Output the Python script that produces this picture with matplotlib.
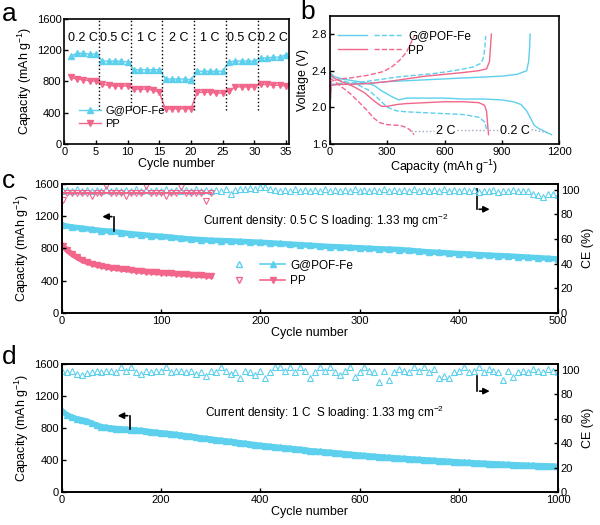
import matplotlib.pyplot as plt
from matplotlib.legend_handler import HandlerTuple
from matplotlib.lines import Line2D

plt.rcParams['font.family'] = ['Liberation Sans', 'DejaVu Sans']
plt.rcParams['font.size'] = 8
plt.rcParams['xtick.direction'] = 'in'
plt.rcParams['ytick.direction'] = 'in'
plt.rcParams['axes.linewidth'] = 1.2
plt.rcParams['mathtext.default'] = 'regular'

CYAN = '#5DD0EE'
PINK = '#F2668B'

# ---------------- (a) rate performance ----------------
rate_cycles = list(range(1, 36))
rate_labels = ['0.2 C', '0.5 C', '1 C', '2 C', '1 C', '0.5 C', '0.2 C']
rate_label_x = [3, 8, 13, 18, 23, 28, 33]
rate_bounds = [5.5, 10.5, 15.5, 20.5, 25.5, 30.5]
rate_gpof = [1120, 1160, 1160, 1150, 1150,
             1060, 1060, 1060, 1060, 1050,
             950, 950, 950, 950, 950,
             830, 830, 830, 830, 820,
             930, 930, 930, 930, 930,
             1050, 1060, 1060, 1060, 1060,
             1100, 1100, 1110, 1110, 1140]
rate_pp = [850, 830, 820, 810, 800,
           760, 750, 740, 740, 740,
           700, 700, 700, 690, 660,
           440, 450, 450, 450, 450,
           660, 660, 660, 650, 650,
           680, 730, 730, 730, 730,
           760, 760, 750, 750, 740]

# ---------------- (b) voltage profiles ----------------
g02_dis_cap = [0, 20, 60, 120, 180, 230, 270, 320, 360, 400, 500, 600, 700, 800, 900, 960, 1000, 1030, 1050, 1070, 1100, 1130, 1160]
g02_dis_v = [2.38, 2.34, 2.31, 2.29, 2.27, 2.24, 2.18, 2.12, 2.08, 2.10, 2.10, 2.10, 2.09, 2.09, 2.08, 2.06, 2.03, 1.96, 1.88, 1.80, 1.76, 1.73, 1.70]
g02_chg_cap = [0, 5, 30, 100, 200, 300, 400, 500, 600, 700, 800, 900, 980, 1030, 1040, 1045, 1048]
g02_chg_v = [1.95, 2.24, 2.25, 2.25, 2.26, 2.28, 2.29, 2.30, 2.31, 2.32, 2.33, 2.34, 2.36, 2.40, 2.50, 2.65, 2.80]
pp02_dis_cap = [0, 20, 60, 120, 180, 230, 270, 300, 350, 400, 500, 600, 700, 780, 810, 820, 825, 830]
pp02_dis_v = [2.37, 2.32, 2.28, 2.23, 2.16, 2.07, 2.01, 2.01, 2.03, 2.04, 2.05, 2.06, 2.06, 2.05, 2.02, 1.95, 1.82, 1.70]
pp02_chg_cap = [0, 5, 50, 100, 200, 300, 400, 500, 600, 700, 780, 820, 835, 840, 845]
pp02_chg_v = [2.00, 2.24, 2.25, 2.25, 2.26, 2.28, 2.31, 2.34, 2.36, 2.38, 2.40, 2.42, 2.50, 2.65, 2.80]
g2_dis_cap = [0, 30, 80, 150, 200, 250, 300, 350, 400, 500, 600, 700, 780, 810, 820]
g2_dis_v = [2.34, 2.31, 2.28, 2.24, 2.19, 2.10, 2.00, 1.96, 1.95, 1.94, 1.93, 1.92, 1.89, 1.84, 1.76]
g2_chg_cap = [0, 5, 50, 150, 250, 350, 450, 550, 650, 750, 790, 805, 812, 815]
g2_chg_v = [2.00, 2.25, 2.26, 2.27, 2.30, 2.33, 2.35, 2.37, 2.40, 2.44, 2.48, 2.55, 2.68, 2.78]
pp2_dis_cap = [0, 50, 105, 150, 192, 230, 262, 300, 367, 400, 420, 440]
pp2_dis_v = [2.32, 2.24, 2.15, 2.06, 1.97, 1.88, 1.83, 1.81, 1.80, 1.78, 1.75, 1.70]
pp2_chg_cap = [0, 5, 50, 105, 200, 280, 330, 367, 400, 437, 445]
pp2_chg_v = [2.00, 2.28, 2.31, 2.32, 2.35, 2.39, 2.45, 2.52, 2.60, 2.76, 2.79]

# ---------------- (c) 0.5 C cycling ----------------
c_cap_cycles = [1] + list(range(10, 501, 10))
c_cap_gpof = [1085, 1065, 1050, 1035, 1020, 1010, 995, 980, 970, 958, 948,
              938, 925, 915, 908, 900, 896, 892, 886, 880, 875,
              868, 860, 852, 845, 838, 830, 822, 818, 812, 806,
              800, 794, 790, 785, 775, 765, 755, 750, 742, 735,
              730, 722, 716, 710, 705, 698, 690, 684, 676, 668]
c_pp_cycles = [1] + list(range(5, 151, 5))
c_cap_pp = [830, 780, 730, 690, 655, 630, 610, 595, 582, 570, 560,
            552, 545, 538, 530, 524, 518, 512, 507, 502, 498,
            494, 490, 486, 482, 478, 474, 470, 466, 462, 458]
c_ce_pp = [92, 97.5, 97.5, 97.5, 97.5, 97.5, 95, 97.5, 97.5, 103, 97.5,
           97.5, 97.5, 95, 97.5, 97.5, 97.5, 103, 97.5, 97.5, 97.5,
           95, 97.5, 97.5, 102, 97.5, 97.5, 97.5, 97.5, 91, 97.5]
c_ce_cycles = [1] + list(range(5, 501, 5))
c_ce_gpof = [99, 100, 99.5, 100.5, 99, 100, 99.5, 100, 99, 100.5,
             99.5, 100, 99, 100, 99.5, 100.5, 99, 100, 99.5, 100,
             99, 100.5, 99.5, 100, 99, 100, 99.5, 100.5, 99, 100,
             99.5, 100, 99, 100.5, 97, 100, 101, 100.5, 101.5, 101,
             102, 102.5, 101, 100, 99.5, 100, 99, 100.5, 99.5, 100,
             99, 100, 99.5, 100.5, 99, 100, 99.5, 100, 99, 100.5,
             99.5, 100, 99, 100, 99.5, 100.5, 99, 100, 99.5, 100,
             99, 100.5, 99.5, 100, 99, 100, 99.5, 100.5, 99, 100,
             99.5, 100, 99, 100, 98.5, 99.5, 99, 100, 98.5, 99.5,
             99, 100, 99.5, 99, 99.5, 97, 96, 94, 96.5, 97, 96]

# ---------------- (d) 1 C cycling ----------------
d_cycles = [1] + list(range(10, 1001, 10))
d_cap = [1010, 965, 935, 915, 900, 885, 860, 835, 815, 805, 798,
         792, 787, 782, 778, 773, 768, 760, 752, 745, 738,
         732, 726, 718, 710, 703, 695, 685, 675, 668, 660,
         652, 645, 637, 630, 622, 614, 606, 598, 590, 582,
         576, 568, 562, 556, 550, 545, 538, 532, 526, 515,
         510, 505, 500, 495, 490, 484, 478, 472, 466, 460,
         455, 450, 445, 440, 435, 431, 427, 422, 418, 414,
         410, 406, 402, 398, 394, 390, 386, 382, 378, 375,
         371, 368, 364, 361, 358, 355, 352, 349, 346, 343,
         340, 338, 335, 333, 331, 329, 327, 325, 323, 320]
d_ce = [99, 98.5, 99.5, 97, 96, 97.5, 98, 99.5, 98.5, 99.5, 99,
        98.5, 102, 99.5, 102, 98.5, 97, 99.5, 98.5, 99.5, 99,
        102, 98.5, 99.5, 99, 98.5, 99.5, 97, 98.5, 95, 99.5,
        98.5, 102, 99.5, 97, 98.5, 93, 99.5, 98.5, 96, 99.5,
        93, 98.5, 102, 102, 99.5, 102, 98.5, 102, 99.5, 93,
        98.5, 102, 99.5, 102, 98.5, 96, 99.5, 102, 94, 98.5,
        102, 99.5, 98.5, 90, 99.5, 92, 98.5, 101, 99.5, 98.5,
        102, 99.5, 102, 98.5, 101, 93, 95, 93, 98.5, 99.5,
        102, 98.5, 99.5, 102, 98.5, 101, 99.5, 98.5, 92, 99.5,
        94, 98.5, 99.5, 98.5, 101, 99.5, 98.5, 101, 99.5, 98.5]

fig = plt.figure(figsize=(6, 5.25), dpi=100)

# ---- panel a ----
ax_a = fig.add_axes([0.107, 0.726, 0.375, 0.238])
ax_a.plot(rate_cycles, rate_gpof, '-^', color=CYAN, ms=5, lw=1, label='G@POF-Fe')
ax_a.plot(rate_cycles, rate_pp, '-v', color=PINK, ms=5, lw=1, label='PP')
ax_a.vlines(rate_bounds, 430, 1600, colors='k', linestyles=':', lw=1)
for x, lab in zip(rate_label_x, rate_labels):
    ax_a.text(x, 1350, lab, ha='center', va='center', fontsize=9)
ax_a.set_xlim(0, 35.5)
ax_a.set_ylim(0, 1600)
ax_a.set_xticks(range(0, 36, 5))
ax_a.set_yticks(range(0, 1601, 400))
ax_a.set_xlabel('Cycle number', fontsize=9, labelpad=1)
ax_a.set_ylabel('Capacity (mAh g$^{-1}$)', fontsize=9, labelpad=2)
ax_a.legend(loc='lower left', bbox_to_anchor=(0.02, 0.04), frameon=False,
            fontsize=8, handlelength=2, handletextpad=0.4, labelspacing=0.3)

# ---- panel b ----
ax_b = fig.add_axes([0.55, 0.726, 0.382, 0.244])
ax_b.plot(g02_dis_cap, g02_dis_v, '-', color=CYAN, lw=1)
ax_b.plot(g02_chg_cap, g02_chg_v, '-', color=CYAN, lw=1)
ax_b.plot(g2_dis_cap, g2_dis_v, '--', color=CYAN, lw=1)
ax_b.plot(g2_chg_cap, g2_chg_v, '--', color=CYAN, lw=1)
ax_b.plot(pp02_dis_cap, pp02_dis_v, '-', color=PINK, lw=1)
ax_b.plot(pp02_chg_cap, pp02_chg_v, '-', color=PINK, lw=1)
ax_b.plot(pp2_dis_cap, pp2_dis_v, '--', color=PINK, lw=1)
ax_b.plot(pp2_chg_cap, pp2_chg_v, '--', color=PINK, lw=1)
ax_b.plot([425, 545], [1.745, 1.745], ':', color='#9AA8C0', lw=1)
ax_b.plot([665, 815], [1.755, 1.755], ':', color='#9AA8C0', lw=1)
ax_b.plot([835, 880], [1.755, 1.755], ':', color='#9AA8C0', lw=1)
ax_b.plot([1055, 1140], [1.755, 1.72], ':', color='#9AA8C0', lw=1)
ax_b.text(605, 1.745, '2 C', ha='center', va='center', fontsize=9)
ax_b.text(968, 1.745, '0.2 C', ha='center', va='center', fontsize=9)
g_solid = Line2D([], [], color=CYAN, lw=1)
g_dash = Line2D([], [], color=CYAN, lw=1, ls='--')
p_solid = Line2D([], [], color=PINK, lw=1)
p_dash = Line2D([], [], color=PINK, lw=1, ls='--')
ax_b.legend([(g_solid, g_dash), (p_solid, p_dash)], ['G@POF-Fe', 'PP'],
            handler_map={tuple: HandlerTuple(ndivide=None, pad=0.6)},
            loc='upper left', bbox_to_anchor=(-0.01, 0.97), frameon=False,
            fontsize=8.5, handlelength=5.5, handletextpad=0.4, labelspacing=0.2)
ax_b.set_xlim(0, 1200)
ax_b.set_ylim(1.6, 3.0)
ax_b.set_xticks(range(0, 1201, 300))
ax_b.set_yticks([1.6, 2.0, 2.4, 2.8])
ax_b.set_xlabel('Capacity (mAh g$^{-1}$)', fontsize=9, labelpad=1)
ax_b.set_ylabel('Voltage (V)', fontsize=9, labelpad=2)

# ---- panel c ----
ax_c = fig.add_axes([0.103, 0.404, 0.827, 0.246])
ax_c2 = ax_c.twinx()
ax_c.plot(c_cap_cycles, c_cap_gpof, '-^', color=CYAN, ms=4, lw=4)
ax_c.plot(c_pp_cycles, c_cap_pp, '-v', color=PINK, ms=4, lw=4)
ax_c2.plot(c_ce_cycles, c_ce_gpof, '^', color=CYAN, mfc='none', ms=4.5, mew=0.8)
ax_c2.plot(c_pp_cycles, c_ce_pp, 'v', color=PINK, mfc='none', ms=4.5, mew=0.8)
ax_c2.plot(c_pp_cycles, [97.5] * len(c_pp_cycles), '-', color=PINK, lw=1.5)
ax_c.set_xlim(0, 500)
ax_c.set_ylim(0, 1600)
ax_c2.set_ylim(0, 105)
ax_c.set_xticks(range(0, 501, 100))
ax_c.set_yticks(range(0, 1601, 400))
ax_c2.set_yticks(range(0, 101, 20))
ax_c.set_xlabel('Cycle number', fontsize=9, labelpad=1)
ax_c.set_ylabel('Capacity (mAh g$^{-1}$)', fontsize=9, labelpad=2)
ax_c2.set_ylabel('CE (%)', fontsize=9, labelpad=2)
ax_c.text(142, 1140, 'Current density: 0.5 C S loading: 1.33 mg cm$^{-2}$',
          ha='left', va='center', fontsize=8.5)
ax_c.plot([53, 53], [1016, 1193], color='k', lw=1.2)
ax_c.annotate('', xy=(38, 1193), xytext=(53.3, 1193),
              arrowprops=dict(arrowstyle='-|>', color='k', lw=1.2, mutation_scale=9))
ax_c.plot([418, 418], [1530, 1284], color='k', lw=1.2)
ax_c.annotate('', xy=(434, 1284), xytext=(417.7, 1284),
              arrowprops=dict(arrowstyle='-|>', color='k', lw=1.2, mutation_scale=9))
gce = Line2D([], [], color=CYAN, marker='^', mfc='none', ls='none', ms=4)
gcap = Line2D([], [], color=CYAN, marker='^', lw=1.2, ms=4)
pce = Line2D([], [], color=PINK, marker='v', mfc='none', ls='none', ms=4)
pcap = Line2D([], [], color=PINK, marker='v', lw=1.2, ms=4)
ax_c.legend([(gce, gcap), (pce, pcap)], ['G@POF-Fe', 'PP'],
            handler_map={tuple: HandlerTuple(ndivide=None, pad=0.8)},
            loc='lower left', bbox_to_anchor=(0.31, 0.12), frameon=False,
            fontsize=8.5, handlelength=5, handletextpad=0.4, labelspacing=0.3)

# ---- panel d ----
ax_d = fig.add_axes([0.103, 0.063, 0.827, 0.244])
ax_d2 = ax_d.twinx()
ax_d.plot(d_cycles, d_cap, '-^', color=CYAN, ms=4, lw=4)
ax_d2.plot(d_cycles, d_ce, '^', color=CYAN, mfc='none', ms=4.5, mew=0.8)
ax_d.set_xlim(0, 1000)
ax_d.set_ylim(0, 1600)
ax_d2.set_ylim(0, 105)
ax_d.set_xticks(range(0, 1001, 200))
ax_d.set_yticks(range(0, 1601, 400))
ax_d2.set_yticks(range(0, 101, 20))
ax_d.set_xlabel('Cycle number', fontsize=9, labelpad=1)
ax_d.set_ylabel('Capacity (mAh g$^{-1}$)', fontsize=9, labelpad=2)
ax_d2.set_ylabel('CE (%)', fontsize=9, labelpad=2)
ax_d.text(288, 993, 'Current density: 1 C  S loading: 1.33 mg cm$^{-2}$',
          ha='left', va='center', fontsize=8.5)
ax_d.plot([138, 138], [780, 952], color='k', lw=1.2)
ax_d.annotate('', xy=(107, 952), xytext=(138.5, 952),
              arrowprops=dict(arrowstyle='-|>', color='k', lw=1.2, mutation_scale=9))
ax_d.plot([837, 837], [1444, 1259], color='k', lw=1.2)
ax_d.annotate('', xy=(868, 1259), xytext=(836.5, 1259),
              arrowprops=dict(arrowstyle='-|>', color='k', lw=1.2, mutation_scale=9))

for ax in [ax_a, ax_b, ax_c, ax_d, ax_c2, ax_d2]:
    ax.tick_params(labelsize=8, length=3, width=1, pad=2)
    ax.set_axisbelow(False)

fig.text(0.003, 0.973, 'a', fontsize=19, va='center')
fig.text(0.5, 0.977, 'b', fontsize=19, va='center')
fig.text(0.003, 0.655, 'c', fontsize=19, va='center')
fig.text(0.003, 0.32, 'd', fontsize=19, va='center')

fig.savefig('out.png', dpi=100)
